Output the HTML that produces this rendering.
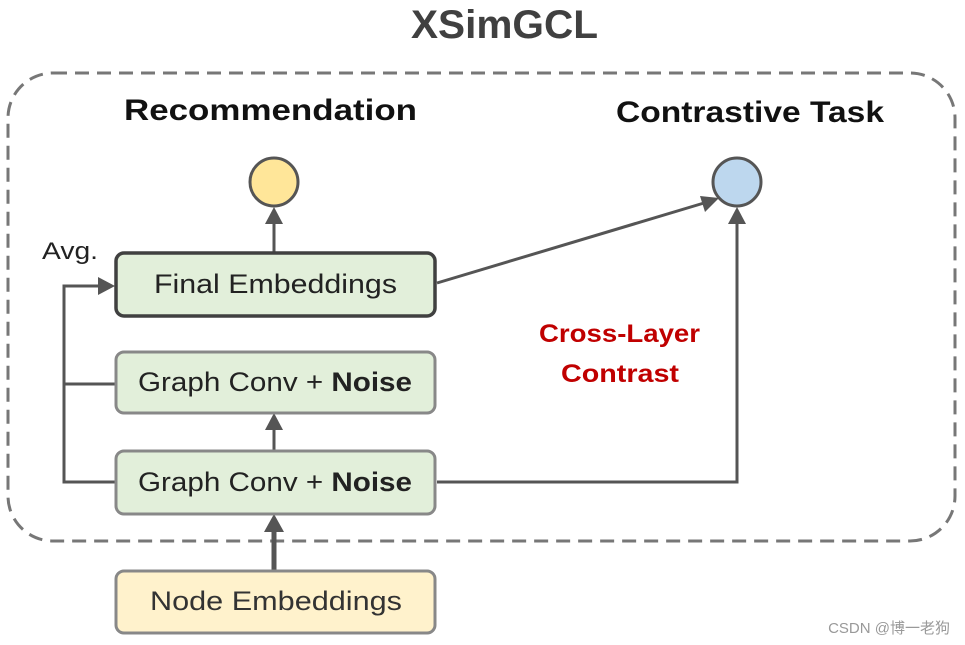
<!DOCTYPE html>
<html><head><meta charset="utf-8"><style>
html,body{margin:0;padding:0;background:#fff;width:965px;height:645px;overflow:hidden}
svg text{font-family:"Liberation Sans","Noto Sans CJK SC",sans-serif}
</style></head><body>
<svg width="965" height="645" viewBox="0 0 965 645" xmlns="http://www.w3.org/2000/svg">
<text x="411" y="38" textLength="187" lengthAdjust="spacingAndGlyphs" font-size="40" font-weight="bold" fill="#404040">XSimGCL</text>
<rect x="8" y="73" width="947" height="468" rx="45" fill="none" stroke="#777" stroke-width="3" stroke-dasharray="14 8"/>
<text x="124" y="120" textLength="293" lengthAdjust="spacingAndGlyphs" font-size="30" font-weight="bold" fill="#111">Recommendation</text>
<text x="616" y="122" textLength="268" lengthAdjust="spacingAndGlyphs" font-size="30" font-weight="bold" fill="#111">Contrastive Task</text>
<text x="42" y="259" textLength="56" lengthAdjust="spacingAndGlyphs" font-size="24" fill="#222">Avg.</text>
<text x="539" y="342" textLength="161" lengthAdjust="spacingAndGlyphs" font-size="25" font-weight="bold" fill="#C00000">Cross-Layer</text>
<text x="561" y="382" textLength="118" lengthAdjust="spacingAndGlyphs" font-size="25" font-weight="bold" fill="#C00000">Contrast</text>
<g stroke="#555" stroke-width="3" fill="none">
<line x1="274" y1="252" x2="274" y2="222"/>
<line x1="274" y1="450" x2="274" y2="428"/>
<polyline points="115,482 64,482 64,286 100,286"/>
<line x1="64" y1="384" x2="115" y2="384"/>
<line x1="437" y1="283" x2="704" y2="203"/>
<polyline points="437,482 737,482 737,222"/>
</g>
<line x1="274" y1="570" x2="274" y2="530" stroke="#555" stroke-width="5"/>
<g fill="#555">
<polygon points="274,207 265,224 283,224"/>
<polygon points="274,413 265,430 283,430"/>
<polygon points="274,514 264,532 284,532"/>
<polygon points="115,286 98,277 98,295"/>
<polygon points="737,207 728,224 746,224"/>
<polygon points="719,198 700,196 705,212"/>
</g>
<circle cx="274" cy="182" r="24" fill="#FFE699" stroke="#555" stroke-width="3"/>
<circle cx="737" cy="182" r="24" fill="#BDD7EE" stroke="#555" stroke-width="3"/>
<rect x="116" y="253" width="319" height="63" rx="8" fill="#E2EFDA" stroke="#404040" stroke-width="3.5"/>
<text x="154" y="293" textLength="243" lengthAdjust="spacingAndGlyphs" font-size="27" fill="#222">Final Embeddings</text>
<rect x="116" y="352" width="319" height="61" rx="8" fill="#E2EFDA" stroke="#888" stroke-width="3"/>
<text x="138" y="391" textLength="274" lengthAdjust="spacingAndGlyphs" font-size="27" fill="#222">Graph Conv + <tspan font-weight="bold">Noise</tspan></text>
<rect x="116" y="451" width="319" height="63" rx="8" fill="#E2EFDA" stroke="#888" stroke-width="3"/>
<text x="138" y="491" textLength="274" lengthAdjust="spacingAndGlyphs" font-size="27" fill="#222">Graph Conv + <tspan font-weight="bold">Noise</tspan></text>
<rect x="116" y="571" width="319" height="62" rx="8" fill="#FFF2CC" stroke="#888" stroke-width="3"/>
<text x="150" y="610" textLength="252" lengthAdjust="spacingAndGlyphs" font-size="27" fill="#333">Node Embeddings</text>
<text x="950" y="633" text-anchor="end" font-size="15" fill="#999">CSDN @博一老狗</text>
</svg>
</body></html>
